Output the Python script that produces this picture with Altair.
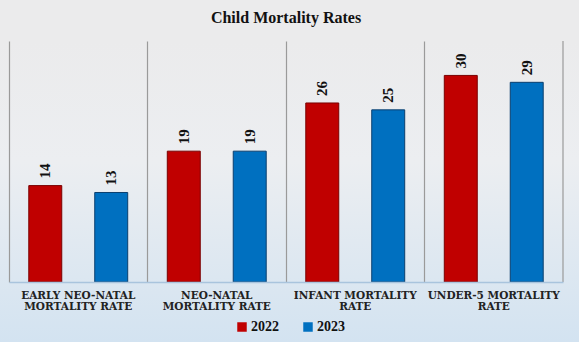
import json
import altair as alt
import pandas as pd

categories = [
    "EARLY NEO-NATAL MORTALITY RATE",
    "NEO-NATAL MORTALITY RATE",
    "INFANT MORTALITY RATE",
    "UNDER-5 MORTALITY RATE",
]
label_lines = [
    ["EARLY NEO-NATAL", "MORTALITY RATE"],
    ["NEO-NATAL", "MORTALITY RATE"],
    ["INFANT MORTALITY", "RATE"],
    ["UNDER-5 MORTALITY", "RATE"],
]
years = ["2022", "2023"]
values_2022 = [14, 19, 26, 30]
values_2023 = [13, 19, 25, 29]
colors = ["#c00000", "#0070c0"]
strokes = ["#7a0000", "#0b3f6e"]

rows = []
for c, a, b in zip(categories, values_2022, values_2023):
    rows.append({"cat": c, "year": years[0], "value": a})
    rows.append({"cat": c, "year": years[1], "value": b})
df = pd.DataFrame(rows)

W, H = 554, 241
PL, PT, PR, PB = 9, 41, 16, 60

label_map = json.dumps(dict(zip(categories, label_lines)))

x_enc = alt.X(
    "cat:N",
    sort=categories,
    scale=alt.Scale(paddingInner=0, paddingOuter=0),
    axis=alt.Axis(
        title=None,
        labelAngle=0,
        labelExpr=f"{label_map}[datum.label]",
        labelFont="DejaVu Serif",
        labelFontWeight="bold",
        labelFontSize=10.5,
        labelColor="#222222",
        labelLineHeight=11,
        labelPadding=8,
        ticks=False,
        grid=True,
        gridColor="#9a9a9a",
        gridWidth=1.2,
        bandPosition=0,
        domainColor="#a9c4dd",
        domainWidth=1.5,
        zindex=1,
    ),
)
xoff = alt.XOffset("year:N", sort=years, scale=alt.Scale(paddingInner=0.5, paddingOuter=0.3))
y_enc = alt.Y("value:Q", scale=alt.Scale(domain=[0, 35]), axis=None)
color_enc = alt.Color(
    "year:N",
    sort=years,
    scale=alt.Scale(domain=years, range=colors),
    legend=alt.Legend(
        title=None,
        orient="none",
        direction="horizontal",
        legendX=226,
        legendY=279,
        symbolType="square",
        symbolSize=90,
        symbolStrokeWidth=0,
        labelFont="Liberation Serif",
        labelFontWeight="bold",
        labelFontSize=14,
        labelColor="#111111",
        columnPadding=22,
        labelOffset=2,
        zindex=1,
    ),
)

bg = alt.Chart(pd.DataFrame({"k": [0]})).mark_rect(
    fill=alt.LinearGradient(
        gradient="linear",
        x1=0, y1=0, x2=0, y2=1,
        stops=[
            alt.GradientStop(offset=0, color="#ebebec"),
            alt.GradientStop(offset=0.4, color="#eceef1"),
            alt.GradientStop(offset=1, color="#d3e3f1"),
        ],
    )
).encode(
    x=alt.value(-PL), x2=alt.value(W + PR),
    y=alt.value(0), y2=alt.value(H + PB),
)

base = alt.Chart(df)
bars = base.mark_bar(strokeWidth=1).encode(
    x=x_enc,
    xOffset=xoff,
    y=y_enc,
    color=color_enc,
    stroke=alt.Stroke("year:N", scale=alt.Scale(domain=years, range=strokes), legend=None),
)
labels = base.mark_text(
    angle=270,
    align="left",
    baseline="middle",
    dx=7,
    font="Liberation Serif",
    fontWeight="bold",
    fontSize=15,
    color="#111111",
).encode(
    x=alt.X("cat:N", sort=categories),
    xOffset=alt.XOffset("year:N", sort=years),
    y="value:Q",
    text="value:Q",
)
right_edge = alt.Chart(pd.DataFrame({"k": [0]})).mark_rule(color="#9a9a9a", strokeWidth=1.2).encode(
    x=alt.value("width"), y=alt.value(0), y2=alt.value("height")
)

chart = alt.layer(bg, bars, labels, right_edge).properties(
    width=W,
    height=H,
    title=alt.TitleParams(
        "Child Mortality Rates",
        font="Liberation Serif",
        fontSize=16,
        fontWeight="bold",
        color="#111111",
        anchor="middle",
        frame="group",
        offset=14,
    ),
    autosize=alt.AutoSizeParams(type="none"),
    padding={"left": PL, "top": PT, "right": PR, "bottom": PB},
    background="#ebebec",
).configure_view(stroke=None)

chart.save("out.html", embed_options={"renderer": "svg", "actions": False})
